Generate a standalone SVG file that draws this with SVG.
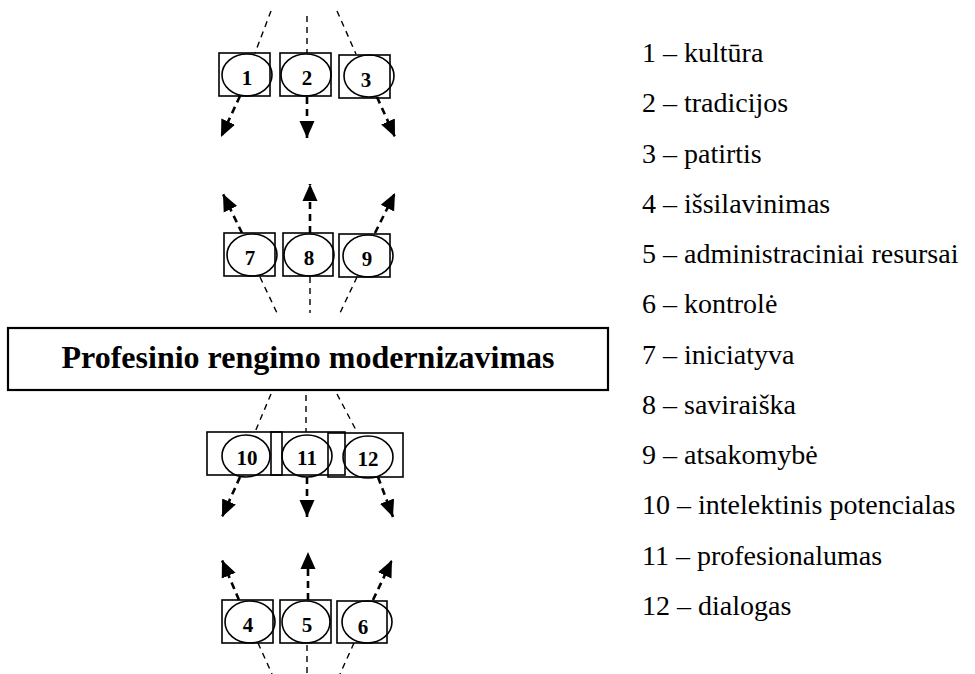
<svg xmlns="http://www.w3.org/2000/svg" width="975" height="674" viewBox="0 0 975 674">
<defs>
<style>
.box{fill:none;stroke:#000;stroke-width:1.6}
.ell{fill:none;stroke:#000;stroke-width:1.6}
.num{font-family:"Liberation Serif","Times New Roman",serif;font-weight:bold;font-size:21px;text-anchor:middle;fill:#000}
.leg{font-family:"Liberation Serif","Times New Roman",serif;font-size:28px;fill:#000}
.title{font-family:"Liberation Serif","Times New Roman",serif;font-weight:bold;font-size:32px;text-anchor:middle;fill:#000}
.ln{stroke:#000;stroke-width:1.4;stroke-dasharray:6 5;fill:none}
.ar{stroke:#000;stroke-width:2.6;stroke-dasharray:7 5;fill:none;marker-end:url(#tip)}
</style>
<marker id="tip" markerUnits="userSpaceOnUse" markerWidth="18" markerHeight="18" viewBox="0 0 18 18" refX="17" refY="9" orient="auto">
<path d="M0,1.5 L17,9 L0,16.5 Z" fill="#000"/>
</marker>
</defs>
<rect width="975" height="674" fill="#fff"/>

<g id="main">
<rect x="8" y="328" width="600" height="62" class="box" style="stroke-width:2.2"/>
<text x="308" y="368" class="title">Profesinio rengimo modernizavimas</text>
</g>

<g id="n1"><rect x="219" y="53" width="51" height="43" class="box"/><ellipse cx="247" cy="75" rx="25" ry="21" class="ell"/><text x="247" y="85" class="num">1</text></g>
<g id="n2"><rect x="280" y="53" width="51" height="43" class="box"/><ellipse cx="306" cy="75" rx="25" ry="21" class="ell"/><text x="307" y="85" class="num">2</text></g>
<g id="n3"><rect x="339" y="55" width="51" height="43" class="box"/><ellipse cx="369" cy="76" rx="25" ry="21" class="ell"/><text x="366" y="87" class="num">3</text></g>

<g id="n7"><rect x="224" y="233" width="51" height="43" class="box"/><ellipse cx="252" cy="255" rx="25" ry="21" class="ell"/><text x="250" y="265" class="num">7</text></g>
<g id="n8"><rect x="283" y="233" width="50" height="43" class="box"/><ellipse cx="309" cy="255" rx="25" ry="21" class="ell"/><text x="309" y="265" class="num">8</text></g>
<g id="n9"><rect x="339" y="234" width="51" height="43" class="box"/><ellipse cx="368" cy="256" rx="25" ry="21" class="ell"/><text x="367" y="266" class="num">9</text></g>

<g id="n10"><rect x="207" y="432" width="75" height="43" class="box"/><ellipse cx="246" cy="456" rx="24" ry="21" class="ell"/><text x="247" y="465" class="num">10</text></g>
<g id="n11"><rect x="271" y="432" width="74" height="43" class="box"/><ellipse cx="307" cy="456" rx="25" ry="21" class="ell"/><text x="307" y="465" class="num">11</text></g>
<g id="n12"><rect x="328" y="433" width="75" height="44" class="box"/><ellipse cx="368" cy="457" rx="25" ry="21" class="ell"/><text x="368" y="466" class="num">12</text></g>

<g id="n4"><rect x="222" y="600" width="51" height="43" class="box"/><ellipse cx="250" cy="622" rx="25" ry="21" class="ell"/><text x="248" y="632" class="num">4</text></g>
<g id="n5"><rect x="280" y="600" width="51" height="43" class="box"/><ellipse cx="306" cy="622" rx="24" ry="21" class="ell"/><text x="307" y="632" class="num">5</text></g>
<g id="n6"><rect x="337" y="601" width="50" height="42" class="box"/><ellipse cx="367" cy="622" rx="25" ry="21" class="ell"/><text x="363" y="634" class="num">6</text></g>

<g id="connectors">
<line x1="271" y1="11" x2="255" y2="53" class="ln"/>
<line x1="307" y1="16" x2="307" y2="53" class="ln"/>
<line x1="337" y1="11" x2="356" y2="54" class="ln"/>
<line x1="240" y1="96" x2="221" y2="137" class="ar"/>
<line x1="307" y1="97" x2="307" y2="138" class="ar"/>
<line x1="377" y1="97" x2="395" y2="137" class="ar"/>

<line x1="242" y1="233" x2="223" y2="194" class="ar"/>
<line x1="310" y1="233" x2="310" y2="184" class="ar"/>
<line x1="375" y1="233" x2="395" y2="193" class="ar"/>
<line x1="260" y1="277" x2="277" y2="313" class="ln"/>
<line x1="310" y1="277" x2="310" y2="313" class="ln"/>
<line x1="357" y1="277" x2="340" y2="313" class="ln"/>

<line x1="271" y1="394" x2="255" y2="432" class="ln"/>
<line x1="306" y1="395" x2="306" y2="432" class="ln"/>
<line x1="337" y1="394" x2="357" y2="432" class="ln"/>
<line x1="240" y1="477" x2="222" y2="517" class="ar"/>
<line x1="307" y1="477" x2="307" y2="517" class="ar"/>
<line x1="378" y1="477" x2="393" y2="517" class="ar"/>

<line x1="239" y1="600" x2="222" y2="560" class="ar"/>
<line x1="308" y1="600" x2="308" y2="552" class="ar"/>
<line x1="373" y1="600" x2="392" y2="560" class="ar"/>
<line x1="258" y1="643" x2="272" y2="674" class="ln"/>
<line x1="307" y1="645" x2="307" y2="674" class="ln"/>
<line x1="354" y1="643" x2="340" y2="674" class="ln"/>
</g>

<g id="legend">
<text x="642" y="62" class="leg">1 – kultūra</text>
<text x="642" y="112" class="leg">2 – tradicijos</text>
<text x="642" y="163" class="leg">3 – patirtis</text>
<text x="642" y="213" class="leg">4 – išsilavinimas</text>
<text x="642" y="263" class="leg">5 – administraciniai resursai</text>
<text x="642" y="313" class="leg">6 – kontrolė</text>
<text x="642" y="364" class="leg">7 – iniciatyva</text>
<text x="642" y="414" class="leg">8 – saviraiška</text>
<text x="642" y="464" class="leg">9 – atsakomybė</text>
<text x="642" y="514" class="leg">10 – intelektinis potencialas</text>
<text x="642" y="565" class="leg">11 – profesionalumas</text>
<text x="642" y="615" class="leg">12 – dialogas</text>
</g>
</svg>
